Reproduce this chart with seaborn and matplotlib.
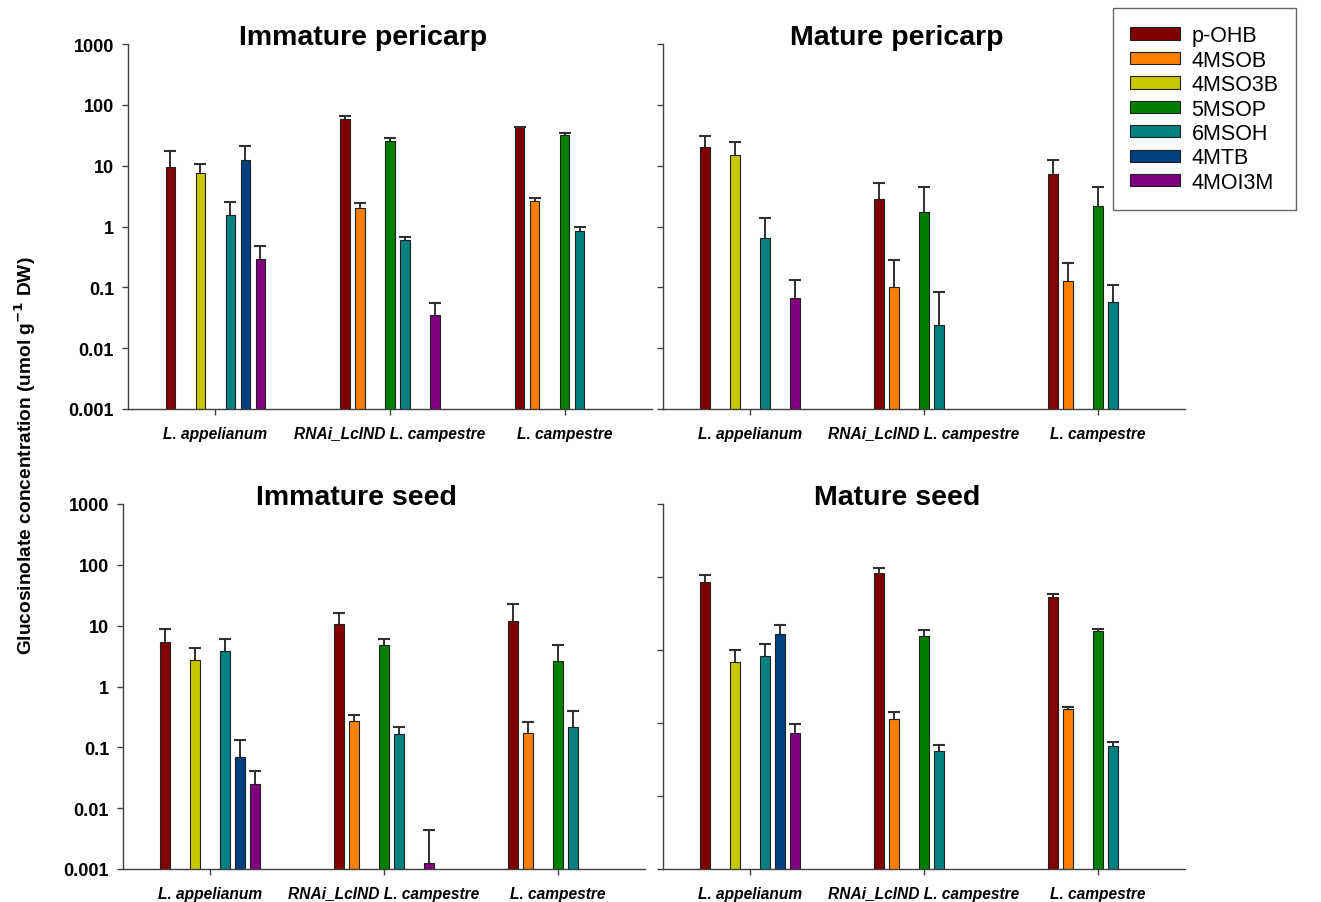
import numpy as np
import pandas as pd
import matplotlib
matplotlib.use("Agg")
import matplotlib.pyplot as plt
import seaborn as sns

# ---------------- data ----------------
genotypes = ["L. appelianum", "RNAi_LcIND L. campestre", "L. campestre"]
compounds = ["p-OHB", "4MSOB", "4MSO3B", "5MSOP", "6MSOH", "4MTB", "4MOI3M"]
colors = ["#800000", "#FF8000", "#C8C800", "#008000", "#008080", "#004080", "#800080"]
panel_titles = ["Immature pericarp", "Mature pericarp", "Immature seed", "Mature seed"]
nan = np.nan

# values[genotype][compound]
imm_pericarp = [[9.6, nan, 7.6, nan, 1.55, 12.4, 0.29],
                [57.8, 2.01, nan, 25.4, 0.60, nan, 0.0347],
                [42.7, 2.59, nan, 31.9, 0.84, nan, nan]]
imm_pericarp_err = [[7.6, nan, 3.2, nan, 1.0, 8.6, 0.19],
                    [8.6, 0.42, nan, 3.4, 0.08, nan, 0.021],
                    [1.3, 0.31, nan, 2.5, 0.16, nan, nan]]

mat_pericarp = [[20.5, nan, 15.2, nan, 0.64, nan, 0.066],
                [2.87, 0.103, nan, 1.71, 0.024, nan, nan],
                [7.2, 0.127, nan, 2.15, 0.0567, nan, nan]]
mat_pericarp_err = [[10.2, nan, 9.3, nan, 0.76, nan, 0.068],
                    [2.33, 0.18, nan, 2.75, 0.059, nan, nan],
                    [5.4, 0.127, nan, 2.31, 0.052, nan, nan]]

imm_seed = [[5.46, nan, 2.73, nan, 3.79, 0.0685, 0.0253],
            [10.6, 0.271, nan, 4.87, 0.164, nan, 0.00126],
            [11.8, 0.170, nan, 2.66, 0.216, nan, nan]]
imm_seed_err = [[3.3, nan, 1.6, nan, 2.3, 0.066, 0.015],
                [5.8, 0.073, nan, 1.2, 0.052, nan, 0.0031],
                [11.2, 0.088, nan, 2.1, 0.18, nan, nan]]

mat_seed = [[52.9, nan, 2.56, nan, 3.13, 7.2, 0.172],
            [73.4, 0.292, nan, 6.76, 0.086, nan, nan],
            [29.6, 0.427, nan, 8.17, 0.106, nan, nan]]
mat_seed_err = [[16.0, nan, 1.4, nan, 1.9, 3.2, 0.07],
                [16.4, 0.084, nan, 1.6, 0.022, nan, nan],
                [3.1, 0.039, nan, 0.76, 0.015, nan, nan]]

y_ticks = [0.001, 0.01, 0.1, 1, 10, 100, 1000]
y_ticklabels = ["0.001", "0.01", "0.1", "1", "10", "100", "1000"]

panels = [(imm_pericarp, imm_pericarp_err), (mat_pericarp, mat_pericarp_err),
          (imm_seed, imm_seed_err), (mat_seed, mat_seed_err)]

# ---------------- style ----------------
sns.set_style("ticks")
plt.rcParams["font.family"] = ["Liberation Sans", "DejaVu Sans"]
plt.rcParams["text.color"] = "black"
plt.rcParams["axes.edgecolor"] = "#404040"
plt.rcParams["xtick.color"] = "#404040"
plt.rcParams["ytick.color"] = "#404040"
plt.rcParams["xtick.labelcolor"] = "black"
plt.rcParams["ytick.labelcolor"] = "black"

W, H = 1321, 903
fig = plt.figure(figsize=(W / 100, H / 100), dpi=100)

# axes rectangles in pixels: left, top, right, bottom
rects = [(128, 45, 652, 410), (663, 45, 1185, 410),
         (123, 505, 645, 870), (663, 505, 1185, 870)]
axes = []
for (l, t, r, b) in rects:
    axes.append(fig.add_axes([l / W, 1 - b / H, (r - l) / W, (b - t) / H]))

pal = dict(zip(compounds, colors))
legend_handles = None

for i, (ax, (vals, errs)) in enumerate(zip(axes, panels)):
    rows = []
    for gi, g in enumerate(genotypes):
        for ci, c in enumerate(compounds):
            rows.append({"genotype": g, "compound": c,
                         "value": vals[gi][ci], "err": errs[gi][ci]})
    df = pd.DataFrame(rows)
    dplot = df.dropna(subset=["value"])
    ax.set_yscale("log")
    sns.barplot(data=dplot, x="genotype", y="value", hue="compound",
                order=genotypes, hue_order=compounds, palette=pal,
                saturation=1, errorbar=None, width=0.603, gap=0.38, dodge=True,
                edgecolor="#202020", linewidth=0.8, ax=ax,
                legend=(i == 0))
    if i == 0:
        h, lab = ax.get_legend_handles_labels()
        legend_handles = (h, lab)
        ax.get_legend().remove()

    # error bars (upper only) positioned on the drawn bars
    for cont in ax.containers:
        for patch in cont.patches:
            xc = patch.get_x() + patch.get_width() / 2
            hgt = patch.get_height()
            if not np.isfinite(hgt) or hgt <= 0:
                continue
            gi = int(round(xc))
            sub = df[(df.genotype == genotypes[gi]) & np.isclose(df.value, hgt)]
            if len(sub) == 0:
                continue
            e = sub.err.iloc[0]
            if not np.isfinite(e):
                continue
            top = hgt + e
            ax.vlines(xc, hgt, top, color="#303030", lw=1.4, zorder=3)
            ax.plot([xc], [top], marker="_", markersize=8, mew=1.5,
                    color="#303030", ls="none", zorder=3)

    ax.set_ylim(0.001, 1000)
    ax.set_xlim(-0.5, 2.5)
    if i == 3:
        ax.set_yticks(10 ** np.linspace(-3, 3, 6))
    else:
        ax.set_yticks(y_ticks)
    ax.minorticks_off()
    if i in (0, 2):
        ax.set_yticklabels(y_ticklabels, fontsize=13, fontweight="bold")
    else:
        ax.set_yticklabels([])
    ax.set_xticks(range(len(genotypes)))
    ax.set_xticklabels(genotypes, fontsize=11.2, fontweight="bold", fontstyle="italic")
    ax.tick_params(axis="both", length=4, width=1.0, direction="out")
    ax.tick_params(axis="x", pad=8)
    ax.tick_params(axis="y", pad=6)
    ax.set_xlabel("")
    ax.set_ylabel("")
    for s in ("top", "right"):
        ax.spines[s].set_visible(False)
    for s in ("left", "bottom"):
        ax.spines[s].set_linewidth(1.0)
    ax.text(0.448, 1.0, panel_titles[i], transform=ax.transAxes,
            ha="center", va="baseline", fontsize=20.5, fontweight="bold",
            color="black")

fig.text(25 / W, 1 - 456 / H, "Glucosinolate concentration (umol g$^{\\mathbf{-1}}$ DW)",
         rotation=90, ha="center", va="center", fontsize=13.8, fontweight="bold",
         color="black")

h, lab = legend_handles
leg = fig.legend(h, lab, loc="upper left", bbox_to_anchor=(1113 / W, 1 - 9 / H),
                 bbox_transform=fig.transFigure, fontsize=15.5, frameon=True,
                 fancybox=False, edgecolor="#404040", borderaxespad=0,
                 handlelength=2.3, handleheight=0.5, handletextpad=0.55,
                 labelspacing=0.16, borderpad=0.8)
leg.get_frame().set_linewidth(1.0)
for t in leg.get_texts():
    t.set_color("black")

fig.savefig("out.png", dpi=100)
